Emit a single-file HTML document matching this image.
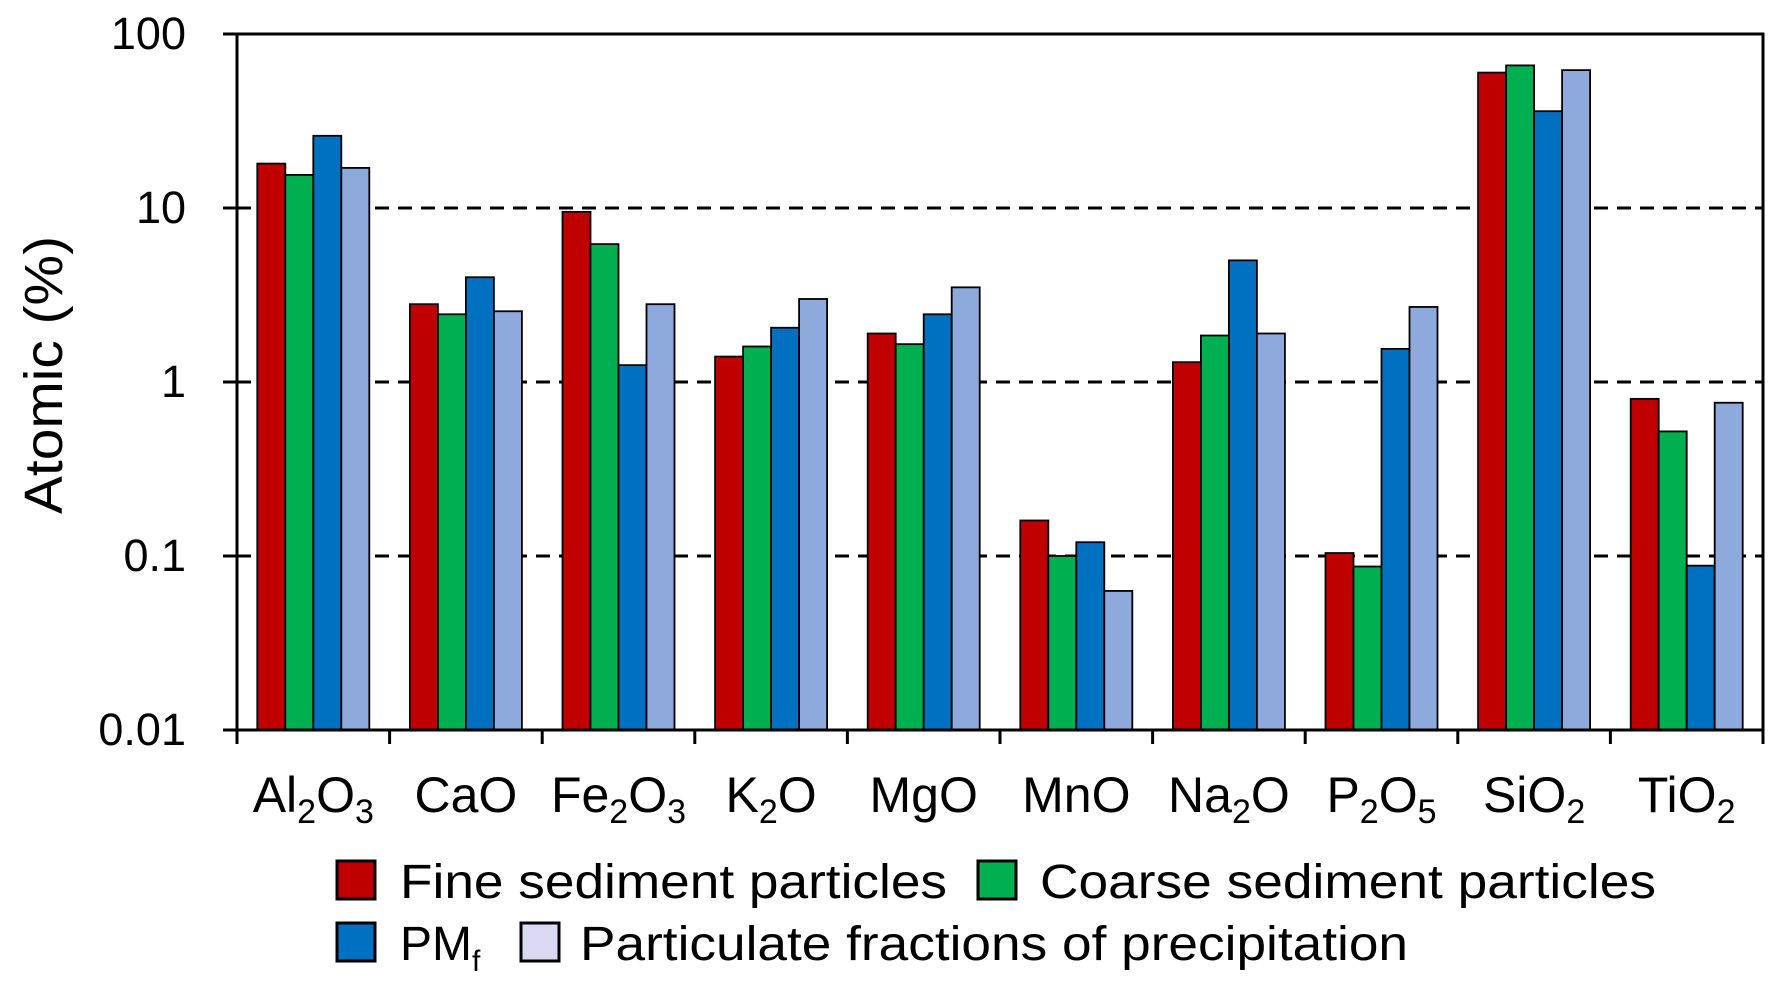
<!DOCTYPE html>
<html><head><meta charset="utf-8"><style>body{margin:0;background:#fff}svg{display:block}text{font-family:"Liberation Sans",sans-serif;fill:#000}</style></head>
<body>
<svg id="chart" width="1774" height="985" viewBox="0 0 1774 985" xmlns="http://www.w3.org/2000/svg"></svg>
<script>
const categories=[["Al","2","O","3"],["CaO"],["Fe","2","O","3"],["K","2","O"],["MgO"],["MnO"],["Na","2","O"],["P","2","O","5"],["Si","O","2"],["Ti","O","2"]];
const fineValues=[18,2.8,9.5,1.4,1.9,0.16,1.3,0.104,60,0.8];
const coarseValues=[15.5,2.45,6.2,1.6,1.65,0.1,1.85,0.087,66,0.52];
const pmfValues=[26,4.0,1.25,2.05,2.45,0.12,5.0,1.55,36,0.088];
const precipValues=[17,2.55,2.8,3.0,3.5,0.063,1.9,2.7,62,0.76];
const yTicks=[100,10,1,0.1,0.01];
const yTickLabels=["100","10","1","0.1","0.01"];
const gridValues=[10,1,0.1];
const seriesNames=["fine","coarse","pmf","precip"];
const colors=["#c00000","#00b050","#0070c0","#8ea9db"];

const NS="http://www.w3.org/2000/svg";
const svg=document.getElementById('chart');
const L=237,R=1763,T=34,B=730;
function y(v){return T+(2-Math.log10(v))*(B-T)/4;}
const gw=(R-L)/categories.length;
function gx(i){return L+i*gw;}
function el(t,a,p){const e=document.createElementNS(NS,t);for(const k in a)e.setAttribute(k,a[k]);(p||svg).appendChild(e);return e;}

gridValues.forEach(v=>{const g=el('line',{x1:L,x2:R,y1:y(v),y2:y(v),stroke:'#000','stroke-width':3,'stroke-dasharray':'14 9'});

});

const allSeries=[fineValues,coarseValues,pmfValues,precipValues];
const bw=28;
categories.forEach((c,i)=>{
  allSeries.forEach((s,j)=>{
    const x0=gx(i)+(gw-4*bw)/2+j*bw;
    const r=el('rect',{x:x0,y:y(s[i]),width:bw,height:B-y(s[i]),fill:colors[j],stroke:'#000','stroke-width':1.8});
    
    
  });
  const t=el('text',{x:gx(i)+gw/2,y:812,'text-anchor':'middle','font-size':50});
  
  
  c.forEach((part,k)=>{
    const sub=/^\d$/.test(part);
    const ts=el('tspan',sub?{'font-size':34,dy:11}:{dy:k>0&&/^\d$/.test(c[k-1])?-11:0},t);
    ts.textContent=part;
  });
});
for(let i=0;i<=categories.length;i++){
  const tk=el('line',{x1:gx(i),x2:gx(i),y1:B,y2:B+14,stroke:'#000','stroke-width':3});
  
  
}
yTicks.forEach((v,i)=>{
  const tk=el('line',{x1:L-14,x2:L,y1:y(v),y2:y(v),stroke:'#000','stroke-width':3});
  
  
  const t=el('text',{x:186,y:y(v)+15,'text-anchor':'end','font-size':45});
  t.textContent=yTickLabels[i];
  
  
});
const fr=el('rect',{x:L,y:T,width:R-L,height:B-T,fill:'none',stroke:'#000','stroke-width':3});


const yt=el('text',{x:0,y:0,transform:'translate(62,375) rotate(-90)','text-anchor':'middle','font-size':54,textLength:278,lengthAdjust:'spacingAndGlyphs'});
yt.textContent='Atomic (%)';



const legend=[[337,861,colors[0],400,898,"Fine sediment particles",547],[978,861,colors[1],1040,898,"Coarse sediment particles",616],[337,923,colors[2],400,960,null,0],[521,923,"#d9d9f3",580,960,"Particulate fractions of precipitation",828]];
legend.forEach((l,i)=>{
  const b=el('rect',{x:l[0],y:l[1],width:38,height:38,fill:l[2],stroke:'#000','stroke-width':3});
  
  
  const a={x:l[3],y:l[4],'font-size':48};
  if(l[5]){a.textLength=l[6];a.lengthAdjust='spacingAndGlyphs';}
  const t=el('text',a);
  if(l[5])t.textContent=l[5];else{t.textContent='PM';const s=el('tspan',{'font-size':30,dy:11},t);s.textContent='f';}
  
  
});
</script>
</body></html>
